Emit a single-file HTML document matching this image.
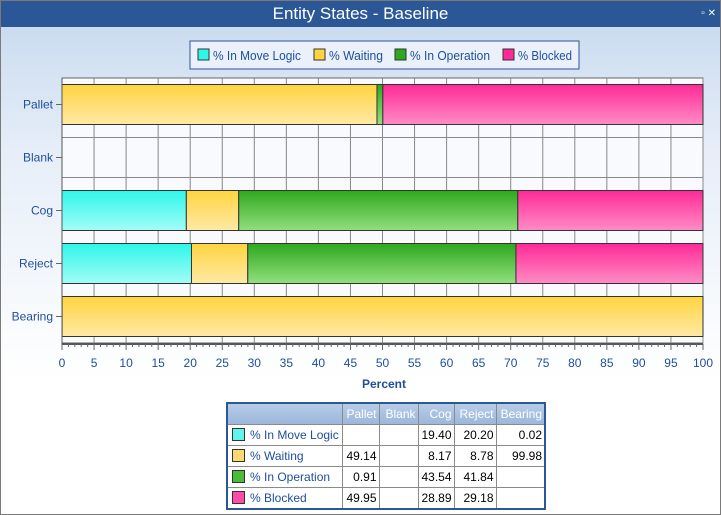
<!DOCTYPE html>
<html><head><meta charset="utf-8">
<style>
body{margin:0;width:721px;height:515px;overflow:hidden;font-family:"Liberation Sans",sans-serif;}
#win{position:absolute;left:0;top:0;width:719px;height:513px;border:1px solid #7a7a7a;background:linear-gradient(#c5d8ee 0px,#e6eef8 150px,#fff 380px);}
#title{position:absolute;left:0;top:0;width:719px;height:26px;background:#2b5797;color:#fff;text-align:center;font-size:17px;line-height:26px;}
#btns{position:absolute;right:4px;top:0;font-size:10px;color:#fff;line-height:26px;}
table{position:absolute;left:225px;top:401px;border-collapse:collapse;font-size:12px;border:2px solid #2b5797;background:#fff;table-layout:fixed;width:318px;}
td,th{border:1px solid #8a8a8a;height:20px;padding:0 2px;text-align:right;white-space:nowrap;overflow:hidden;}
th{background:linear-gradient(#b7cce6,#9cb8dc);color:#fff;font-weight:normal;}
td.l{text-align:left;color:#1f4e9a;padding-left:4px;}
.sw{display:inline-block;width:11px;height:11px;border:1px solid #333;vertical-align:-2px;margin-right:5px;}
</style></head><body>
<div id="win">
<div id="title">Entity States - Baseline</div>
<div id="btns">▫ ✕</div>
<svg id="chart" width="721" height="400" style="position:absolute;left:0;top:0"></svg>
<table>
<colgroup><col style="width:115px"><col style="width:37px"><col style="width:39px"><col style="width:36px"><col style="width:42px"><col style="width:49px"></colgroup>
<tr><th></th><th>Pallet</th><th>Blank</th><th>Cog</th><th>Reject</th><th>Bearing</th></tr>
<tr><td class="l"><span class="sw" style="background:#5ff5ee"></span>% In Move Logic</td><td></td><td></td><td>19.40</td><td>20.20</td><td>0.02</td></tr>
<tr><td class="l"><span class="sw" style="background:#ffd970"></span>% Waiting</td><td>49.14</td><td></td><td>8.17</td><td>8.78</td><td>99.98</td></tr>
<tr><td class="l"><span class="sw" style="background:#4cbb3a"></span>% In Operation</td><td>0.91</td><td></td><td>43.54</td><td>41.84</td><td></td></tr>
<tr><td class="l"><span class="sw" style="background:#ff4aa8"></span>% Blocked</td><td>49.95</td><td></td><td>28.89</td><td>29.18</td><td></td></tr>
</table>
</div>
<script>
const categories=["Pallet","Blank","Cog","Reject","Bearing"];
const seriesNames=["% In Move Logic","% Waiting","% In Operation","% Blocked"];
const moveLogic=[0,0,19.40,20.20,0.02];
const waiting=[49.14,0,8.17,8.78,99.98];
const inOperation=[0.91,0,43.54,41.84,0];
const blocked=[49.95,0,28.89,29.18,0];
const xTicks=[0,5,10,15,20,25,30,35,40,45,50,55,60,65,70,75,80,85,90,95,100];
const series=[moveLogic,waiting,inOperation,blocked];
const colors=[["#2ef7ea","#a3fcf7"],["#ffd43f","#ffe9a6"],["#2ea81e","#93df7e"],["#ff2a97","#ff8cc5"]];
const NS="http://www.w3.org/2000/svg";
const svg=document.getElementById('chart');
const X0=61,X1=702,Y0=77,Y1=342;
const xs=v=>X0+(X1-X0)*v/100;
const band=(Y1-Y0)/categories.length;
const yc=i=>Y0+band*(i+0.5);
function mk(t,a,p){const e=document.createElementNS(NS,t);for(const k in a)e.setAttribute(k,a[k]);(p||svg).appendChild(e);return e;}
const defs=mk('defs',{});
colors.forEach((c,i)=>{const g=mk('linearGradient',{id:'g'+i,x1:0,y1:0,x2:0,y2:1},defs);mk('stop',{offset:0,'stop-color':c[0]},g);mk('stop',{offset:1,'stop-color':c[1]},g);});
// legend
const lg=mk('g',{});


mk('rect',{x:189,y:40,width:389,height:28,fill:'#eaf1fa',stroke:'#2b5797'},lg);
const lx=[197,313,394,502];
const lw=[88,54,80,54];
seriesNames.forEach((n,i)=>{const e=mk('g',{},lg);


mk('rect',{x:lx[i],y:48,width:11,height:11,fill:colors[i][0],stroke:'#333'},e);
const t=mk('text',{x:lx[i]+15,y:59,'font-size':12.5,fill:'#1f4e9a',textLength:lw[i],lengthAdjust:'spacingAndGlyphs'},e);t.textContent=n;});
// plot bg
mk('rect',{x:X0,y:Y0,width:X1-X0,height:Y1-Y0,fill:'#f8fafd',stroke:'#666'});
// grid
xTicks.forEach(v=>{const l=mk('line',{x1:xs(v),x2:xs(v),y1:Y0,y2:Y1,stroke:'#888'});});
categories.forEach((c,i)=>{[yc(i)-20,yc(i)+20].forEach(y=>mk('line',{x1:X0,x2:X1,y1:y,y2:y,stroke:'#888'}));});
// bars
categories.forEach((c,i)=>{let acc=0;series.forEach((s,j)=>{const v=s[i];if(v>0){const r=mk('rect',{x:xs(acc),y:yc(i)-20,width:xs(acc+v)-xs(acc),height:40,fill:'url(#g'+j+')',stroke:'#333','stroke-width':1});

}acc+=v;});
mk('line',{x1:X0-6,x2:X0,y1:yc(i),y2:yc(i),stroke:'#666'});
const t=mk('text',{x:X0-9,y:yc(i)+4,'font-size':12,fill:'#1f4e9a','text-anchor':'end'});t.textContent=c;
});
// x axis
mk('line',{x1:X0,x2:X1,y1:Y1+1,y2:Y1+1,stroke:'#555','stroke-width':2});
mk('line',{x1:X0,x2:X0,y1:Y0,y2:Y1+6,stroke:'#555'});
for(let v=0;v<=100;v++){mk('line',{x1:xs(v),x2:xs(v),y1:Y1+1,y2:Y1+(v%5?4:7),stroke:'#666'});}
xTicks.forEach(v=>{const t=mk('text',{x:xs(v),y:Y1+24,'font-size':12,fill:'#1f4e9a','text-anchor':'middle'});t.textContent=v;
});
const at=mk('text',{x:383,y:387,'font-size':12,'font-weight':'bold',fill:'#1f4e9a','text-anchor':'middle'});at.textContent='Percent';

</script>
</body></html>
